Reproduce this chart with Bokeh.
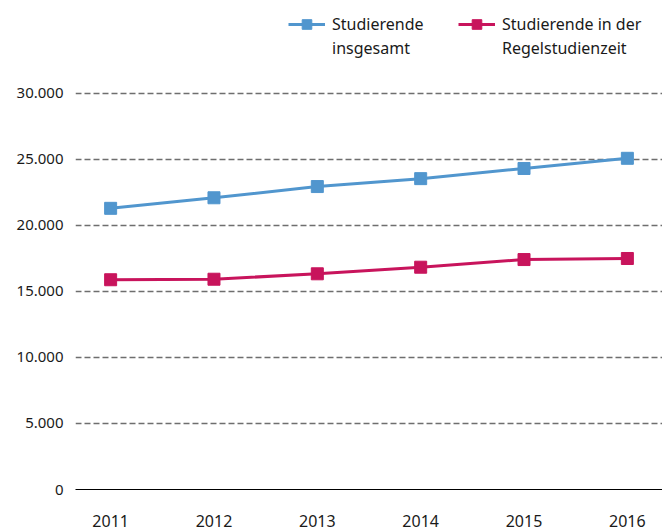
from bokeh.plotting import figure
from bokeh.models import Range1d, FixedTicker, Legend, LegendItem
from bokeh.embed import file_html
from bokeh.resources import INLINE

years = [2011, 2012, 2013, 2014, 2015, 2016]
insgesamt = [21300, 22100, 22950, 23550, 24320, 25090]
regelstudienzeit = [15890, 15930, 16340, 16840, 17420, 17500]
y_ticks = [0, 5000, 10000, 15000, 20000, 25000, 30000]
y_labels = ["0", "5.000", "10.000", "15.000", "20.000", "25.000", "30.000"]
x_labels = ["2011", "2012", "2013", "2014", "2015", "2016"]
series_names = [["Studierende", "insgesamt"], ["Studierende in der", "Regelstudienzeit"]]

BLUE = "#5196CE"
RED = "#C8145C"
FONT = "Noto Sans"
TXT = "#1a1a1a"

p = figure(width=662, height=530, output_backend="svg", toolbar_location=None,
           x_range=Range1d(2010.66, 2016.34), y_range=Range1d(0, 37045),
           min_border_left=75, min_border_right=0, min_border_top=0, min_border_bottom=41)
p.outline_line_color = None
p.background_fill_color = "white"

r1 = p.line(years, insgesamt, line_color=BLUE, line_width=3)
m1 = p.scatter(years, insgesamt, marker="square", size=12, fill_color=BLUE, line_color=BLUE)
r2 = p.line(years, regelstudienzeit, line_color=RED, line_width=3)
m2 = p.scatter(years, regelstudienzeit, marker="square", size=12, fill_color=RED, line_color=RED)
# invisible renderer used only for the legend's second text lines
blank = p.line([], [], line_alpha=0)

# axes
p.xaxis.ticker = FixedTicker(ticks=years)
p.xaxis.major_label_overrides = {y: l for y, l in zip(years, x_labels)}
p.xaxis.major_tick_line_color = None
p.xaxis.minor_tick_line_color = None
p.xaxis.axis_line_color = "black"
p.xaxis.axis_line_width = 1.2
p.xaxis.major_label_text_font = FONT
p.xaxis.major_label_text_font_size = "16px"
p.xaxis.major_label_text_color = TXT
p.xaxis.major_label_standoff = 19

p.yaxis.ticker = FixedTicker(ticks=y_ticks)
p.yaxis.major_label_overrides = {t: l for t, l in zip(y_ticks, y_labels)}
p.yaxis.major_tick_line_color = None
p.yaxis.minor_tick_line_color = None
p.yaxis.axis_line_color = None
p.yaxis.major_label_text_font = FONT
p.yaxis.major_label_text_font_size = "15px"
p.yaxis.major_label_text_color = TXT
p.yaxis.major_label_standoff = 6

p.xgrid.grid_line_color = None
p.ygrid.ticker = FixedTicker(ticks=y_ticks[1:])
p.ygrid.grid_line_color = "#6e6e6e"
p.ygrid.grid_line_width = 1.5
p.ygrid.grid_line_dash = "6 3"


def make_legend(names, renderers, loc):
    lg = Legend(items=[LegendItem(label=names[0], renderers=renderers),
                       LegendItem(label=names[1], renderers=[blank])],
                orientation="vertical", location=loc)
    lg.border_line_color = None
    lg.background_fill_alpha = 0
    lg.padding = 0
    lg.margin = 0
    lg.spacing = 0
    lg.glyph_width = 37
    lg.glyph_height = 24
    lg.label_height = 16
    lg.label_standoff = 7
    lg.label_text_font = FONT
    lg.label_text_font_size = "16px"
    lg.label_text_color = TXT
    return lg


p.add_layout(make_legend(series_names[0], [r1, m1], (213, 429)))
p.add_layout(make_legend(series_names[1], [r2, m2], (383, 429)))

open("out.html", "w").write(file_html(p, INLINE))
